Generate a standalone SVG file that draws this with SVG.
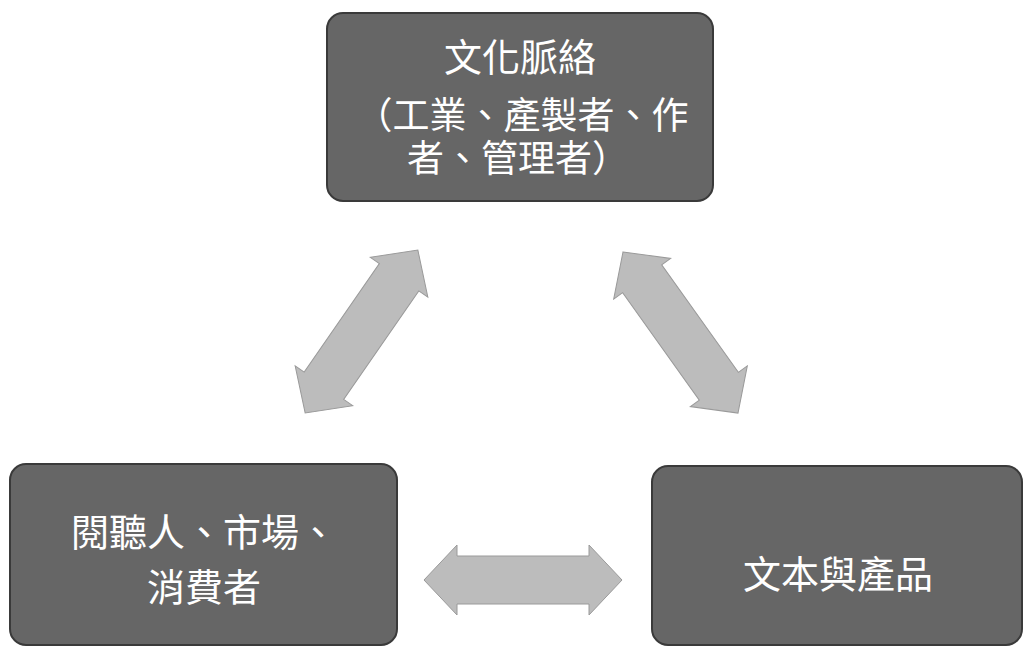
<svg xmlns="http://www.w3.org/2000/svg" width="1028" height="647" viewBox="0 0 1028 647">
<style>
.box{fill:#666666;stroke:#3a3a3a;stroke-width:2}
.lbl{font-family:"Noto Sans CJK TC","Noto Sans CJK SC",sans-serif;font-size:38px;fill:#ffffff;text-anchor:middle}
.lbl2{font-family:"Noto Sans CJK TC","Noto Sans CJK SC",sans-serif;font-size:37px;fill:#ffffff;text-anchor:middle}
.arr{fill:#bcbcbc;stroke:#9a9a9a;stroke-width:1}
</style>
<defs>
<polygon id="dbl" points="-99,0 -66,-35 -66,-24 66,-24 66,-35 99,0 66,35 66,24 -66,24 -66,35"/>
</defs>
<rect width="1028" height="647" fill="#ffffff"/>
<g id="connectors">
<use href="#dbl" class="arr" transform="translate(361.5,331.5) rotate(-55.3)"/>
<use href="#dbl" class="arr" transform="translate(680.5,332.5) rotate(54.5)"/>
<use href="#dbl" class="arr" transform="translate(523,580)"/>
</g>
<g id="node-culture">
<rect class="box" x="327" y="13" width="386" height="188" rx="16"/>
<text class="lbl" x="520" y="71">文化脈絡</text>
<text class="lbl2" x="522" y="129">（工業、產製者、作</text>
<text class="lbl2" x="518" y="172">者、管理者）</text>
</g>
<g id="node-audience">
<rect class="box" x="10" y="464" width="387" height="181" rx="16"/>
<text class="lbl" x="204" y="546">閱聽人、市場、</text>
<text class="lbl" x="204" y="601">消費者</text>
</g>
<g id="node-text">
<rect class="box" x="652" y="466" width="370" height="179" rx="16"/>
<text class="lbl" x="838" y="588">文本與產品</text>
</g>
</svg>
